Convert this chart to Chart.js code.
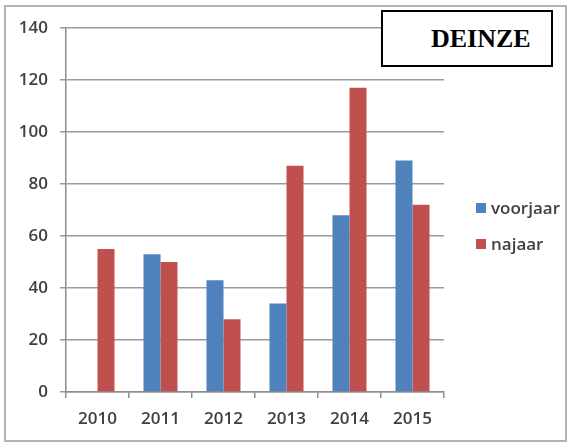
<!DOCTYPE html>
<html>
<head>
<meta charset="utf-8">
<script src="https://cdn.jsdelivr.net/npm/chart.js@4"></script>
<style>
    html, body { margin: 0; padding: 0; background: #fff; }
    #wrap { position: relative; width: 569px; height: 444px; }
    #frame {
        position: absolute; left: 4px; top: 5px; width: 559px; height: 433px;
        border: 2px solid #b4b4b4; box-sizing: content-box;
    }
    #title {
        position: absolute; left: 381px; top: 10px; height: 53px; width: 168px;
        border: 2px solid #000; background: #fff; color: #000;
        font-family: "Liberation Serif", serif; font-weight: bold; font-size: 26px;
        line-height: 53px; white-space: nowrap; overflow: hidden;
        box-sizing: content-box;
    }
    #title span { position: absolute; left: 48px; top: 0; }
    #legend { position: absolute; left: 476px; top: 196px; font: 600 17px "Open Sans", sans-serif; color: #404040; }
    #legend div { height: 36px; display: flex; align-items: flex-start; }
    #legend span.box { display: inline-block; width: 10px; height: 10px; margin: 7px 5px 0 0; }
    canvas { position: absolute; left: 0; top: 0; }
</style>
</head>
<body>
<div id="wrap">
    <div id="frame"></div>
    <canvas id="chart" width="569" height="444"></canvas>
    <div id="title"><span>DEINZE</span></div>
    <div id="legend"></div>
</div>
<script>
/* 数据 */
const years = ['2010', '2011', '2012', '2013', '2014', '2015'];
const voorjaar = [null, 53, 43, 34, 68, 89];
const najaar = [55, 50, 28, 87, 117, 72];
const seriesNames = ['voorjaar', 'najaar'];
const seriesColors = ['#4f81bd', '#c0504d'];

const tickFont = { family: '"Open Sans", sans-serif', size: 17, weight: 600 };

/* 图例 (HTML) */
const legendEl = document.getElementById('legend');
seriesNames.forEach((name, i) => {
    const row = document.createElement('div');
    row.innerHTML = '<span class="box" style="background:' + seriesColors[i] + '"></span>' + name;
    legendEl.appendChild(row);
});

new Chart(document.getElementById('chart').getContext('2d'), {
    type: 'bar',
    data: {
        labels: years,
        datasets: [
            { label: seriesNames[0], data: voorjaar, backgroundColor: seriesColors[0] },
            { label: seriesNames[1], data: najaar, backgroundColor: seriesColors[1] }
        ]
    },
    options: {
        responsive: false,
        animation: false,
        layout: { padding: { left: 0, top: 28, right: 125, bottom: 0 } },
        datasets: { bar: { categoryPercentage: 0.54, barPercentage: 1.0 } },
        plugins: { legend: { display: false }, tooltip: { enabled: false } },
        scales: {
            x: {
                grid: { drawOnChartArea: false, drawTicks: true, tickLength: 6, color: '#8c8c8c', lineWidth: 1.5 },
                border: { color: '#8c8c8c', width: 1.5 },
                ticks: { font: tickFont, color: '#404040', padding: 11 },
                afterFit: s => { s.height = 52; }
            },
            y: {
                min: 0, max: 140,
                grid: { color: '#9a9a9a', lineWidth: 1.5, tickLength: 6 },
                border: { color: '#8c8c8c', width: 1.5 },
                ticks: { stepSize: 20, font: tickFont, color: '#404040', padding: 12 },
                afterFit: s => { s.width = 66; }
            }
        }
    }
});
</script>
</body>
</html>
